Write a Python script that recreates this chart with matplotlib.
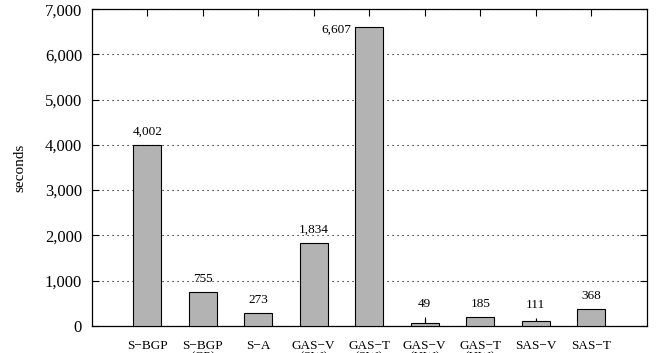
import matplotlib
matplotlib.use("Agg")
import matplotlib.pyplot as plt
from matplotlib.ticker import FuncFormatter

# data
labels = ["S\u2212BGP", "S\u2212BGP\n(CP)", "S\u2212A", "GAS\u2212V\n(SW)", "GAS\u2212T\n(SW)",
          "GAS\u2212V\n(HW)", "GAS\u2212T\n(HW)", "SAS\u2212V", "SAS\u2212T"]
seconds = [4002, 755, 273, 1834, 6607, 49, 185, 111, 368]
err_up = [0, 0, 0, 0, 0, 133, 0, 66, 0]
value_text = ["4,002", "755", "273", "1,834", "6,607", "49", "185", "111", "368"]

plt.rcParams["font.family"] = ["Liberation Serif", "DejaVu Serif"]

fig = plt.figure(figsize=(6.6, 3.53), dpi=100)
ax = fig.add_axes([0.139, 0.0773, 0.841, 0.8964])

x = list(range(1, len(seconds) + 1))
ax.bar(x, seconds, width=0.5, color="#b3b3b3", edgecolor="black", linewidth=0.8, zorder=3)
ax.errorbar(x, seconds, yerr=[[0] * len(seconds), err_up], fmt="none",
            ecolor="black", elinewidth=0.8, capsize=0, zorder=2.8)

for xi, v, e, t in zip(x, seconds, err_up, value_text):
    if v > 6000:
        # tall bar: label sits beside the bar top
        ax.annotate(t, (xi - 0.25, v), xytext=(-4, -3), textcoords="offset pixels",
                    ha="right", va="center", fontsize=9.5)
    else:
        ax.annotate(t, (xi, v + e), xytext=(0, 13), textcoords="offset pixels",
                    ha="center", va="center", fontsize=9.5)

ax.set_xlim(0, 10)
ax.set_ylim(0, 7000)
ax.set_xticks(x)
ax.set_xticklabels(labels, fontsize=9.5, linespacing=1.0, va="top")
ax.set_yticks(range(0, 7001, 1000))
ax.yaxis.set_major_formatter(FuncFormatter(lambda v, p: f"{int(v):,}"))
ax.tick_params(axis="y", labelsize=12, direction="in", length=5, width=0.8,
               left=True, right=True, pad=7)
ax.tick_params(axis="x", direction="in", length=5, width=0.8,
               bottom=True, top=True, pad=10)

ax.yaxis.grid(True, color="black", linewidth=0.8, linestyle=(0, (1, 3.5)))
for s in ax.spines.values():
    s.set_linewidth(0.9)

ax.set_ylabel("seconds", fontsize=11)
ax.yaxis.set_label_coords(-0.118, 0.5)

fig.savefig("out.png", dpi=100)
